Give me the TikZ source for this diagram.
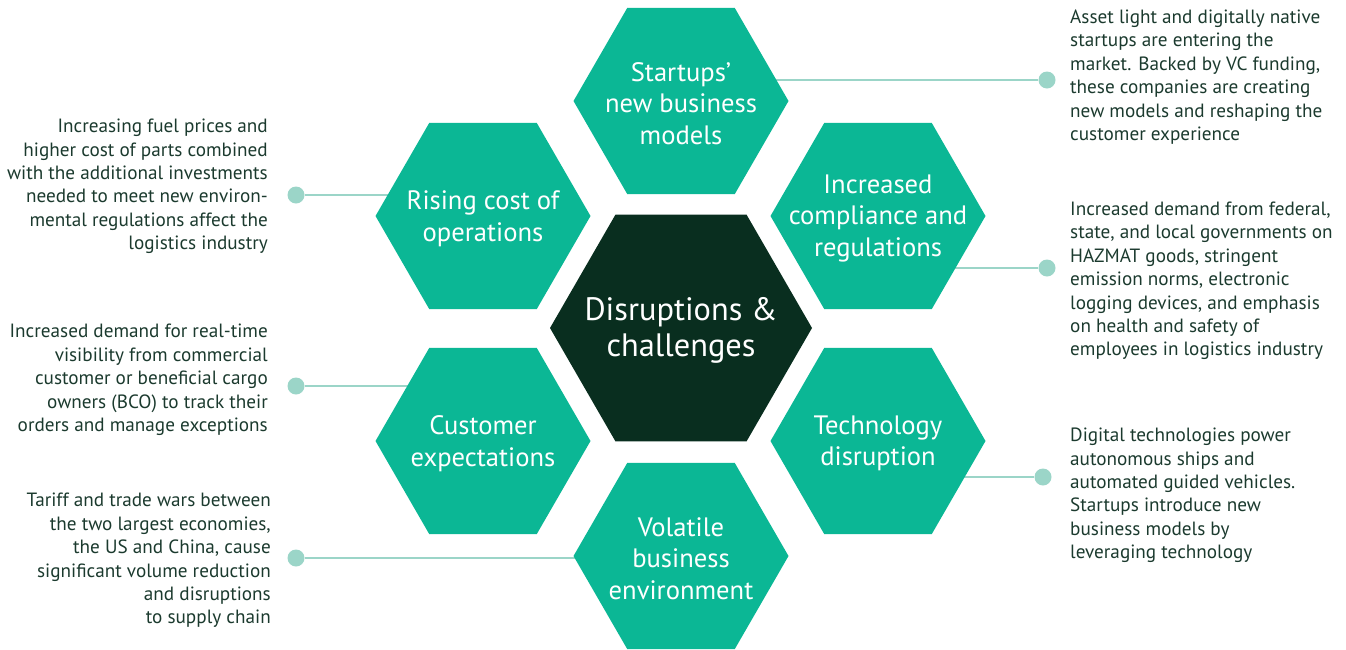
\documentclass[tikz,border=0pt]{standalone}
\usepackage{fontspec}
\setmainfont{PT Sans}
\usepackage{tikz}
\usetikzlibrary{shapes.geometric}
\pgfdeclarelayer{edgelayer}
\pgfdeclarelayer{nodelayer}
\pgfsetlayers{edgelayer,nodelayer,main}
\definecolor{hexteal}{RGB}{11,183,149}
\definecolor{hexdark}{RGB}{9,46,31}
\definecolor{linkteal}{RGB}{155,213,200}
\definecolor{bodytext}{RGB}{27,58,46}
\tikzset{
  hexa/.style={regular polygon, regular polygon sides=6,
    fill=hexteal, draw=none, inner sep=0pt, minimum size=215pt},
  hexlabel/.style={text=white, align=center, inner sep=0pt, yshift=-2.5pt, font=\fontsize{26.6}{31.5}\selectfont},
  dot/.style={circle, fill=linkteal, inner sep=0pt, minimum size=17pt},
  conn/.style={draw=linkteal, line width=2.6pt},
  notel/.style={text=bodytext, align=right, inner sep=0pt, anchor=east, font=\fontsize{19.2}{23.4}\selectfont},
  noter/.style={text=bodytext, align=left, inner sep=0pt, anchor=west, font=\fontsize{19.2}{23.4}\selectfont}
}
\begin{document}
\begin{tikzpicture}[x=1pt, y=-1pt]
\useasboundingbox (0,0) rectangle (1346,649);
% hexagons
\node[hexa] (startups) at (681,101) {};
\node[hexa] (rising) at (483,216) {};
\node[hexa] (compliance) at (878,216) {};
\node[hexa] (customer) at (483,441) {};
\node[hexa] (technology) at (878,441) {};
\node[hexa] (volatile) at (681,556) {};
\node[hexa, fill=hexdark, minimum size=262pt] (core) at (681,328) {};
\node[hexlabel] (startups-t) at (startups) {Startups’\\new business\\models};
\node[hexlabel] (rising-t) at (rising) {Rising cost of\\operations};
\node[hexlabel] (compliance-t) at (compliance) {Increased\\compliance and\\regulations};
\node[hexlabel] (customer-t) at (customer) {Customer\\expectations};
\node[hexlabel] (technology-t) at (technology) {Technology\\disruption};
\node[hexlabel] (volatile-t) at (volatile) {Volatile\\business\\environment};
\node[hexlabel, font=\fontsize{32.4}{36}\selectfont] (core-t) at (core) {Disruptions \&\\challenges};
% dots
\node[dot] (dot-startups) at (1047,80) {};
\node[dot] (dot-compliance) at (1047,268) {};
\node[dot] (dot-technology) at (1043,477) {};
\node[dot] (dot-rising) at (296,195) {};
\node[dot] (dot-customer) at (296,386) {};
\node[dot] (dot-volatile) at (296,558) {};
\begin{pgfonlayer}{edgelayer}
\foreach \n in {startups,compliance,technology,rising,customer,volatile}
  \draw[conn] (dot-\n) -- (dot-\n -| \n.center);
\end{pgfonlayer}
% notes
\node[notel] (note-rising) at (268,186.5) {Increasing fuel prices and\\higher cost of parts combined\\with the additional investments\\needed to meet new environ-\\mental regulations affect the\\logistics industry};
\node[notel] (note-customer) at (268,380) {Increased demand for real-time\\visibility from commercial\\customer or beneficial cargo\\owners (BCO) to track their\\orders and manage exceptions};
\node[notel] (note-volatile) at (271,560.5) {Tariff and trade wars between\\the two largest economies,\\the US and China, cause\\significant volume reduction\\and disruptions\\to supply chain};
\node[noter] (note-startups) at (1070,77) {Asset light and digitally native\\startups are entering the\\market. Backed by VC funding,\\these companies are creating\\new models and reshaping the\\customer experience};
\node[noter] (note-compliance) at (1070,281) {Increased demand from federal,\\state, and local governments on\\HAZMAT goods, stringent\\emission norms, electronic\\logging devices, and emphasis\\on health and safety of\\employees in logistics industry};
\node[noter] (note-technology) at (1070,495.5) {Digital technologies power\\autonomous ships and\\automated guided vehicles.\\Startups introduce new\\business models by\\leveraging technology};
\end{tikzpicture}
\end{document}
